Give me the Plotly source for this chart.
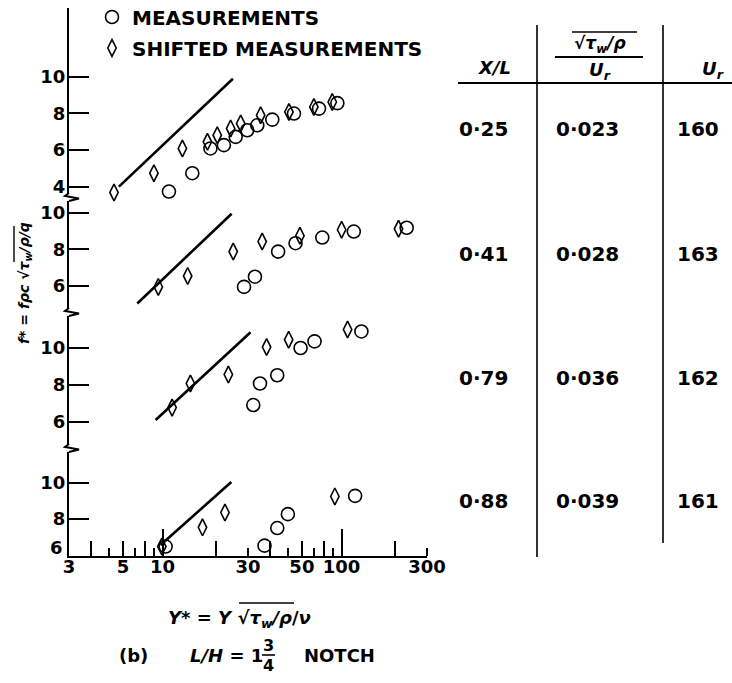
import math
import plotly.graph_objects as go

# ---------------- data ----------------
# Panel X/L = 0.25
p1_line_x = [5.7, 24.7]
p1_line_y = [4.0, 9.88]
p1_circ_x = [10.85, 14.65, 18.5, 22.0, 25.6, 29.7, 33.8, 41.0, 54.2, 74.8, 94.7]
p1_circ_y = [3.73, 4.73, 6.08, 6.26, 6.71, 7.07, 7.34, 7.65, 7.98, 8.25, 8.55]
p1_dia_x = [5.35, 8.94, 12.9, 17.8, 20.2, 24.0, 27.3, 35.3, 50.8, 70.0, 88.7]
p1_dia_y = [3.68, 4.73, 6.08, 6.44, 6.80, 7.17, 7.44, 7.89, 8.07, 8.34, 8.61]

# Panel X/L = 0.41
p2_line_x = [7.22, 24.3]
p2_line_y = [5.03, 9.96]
p2_circ_x = [28.5, 32.8, 44.2, 55.3, 78.0, 117, 231]
p2_circ_y = [5.94, 6.50, 7.88, 8.34, 8.65, 8.98, 9.19]
p2_dia_x = [9.46, 13.8, 24.8, 36.0, 58.5, 100, 208]
p2_dia_y = [5.94, 6.54, 7.88, 8.43, 8.75, 9.08, 9.13]

# Panel X/L = 0.79
p3_line_x = [9.14, 31.0]
p3_line_y = [6.09, 10.86]
p3_circ_x = [32.1, 35.0, 43.7, 59.0, 70.6, 129]
p3_circ_y = [6.90, 8.07, 8.52, 10.0, 10.36, 10.90]
p3_dia_x = [11.3, 14.3, 23.3, 38.1, 50.6, 108]
p3_dia_y = [6.76, 8.07, 8.56, 10.05, 10.45, 11.01]

# Panel X/L = 0.88
p4_line_x = [9.74, 24.2]
p4_line_y = [6.58, 10.03]
p4_circ_x = [10.4, 37.1, 43.7, 50.1, 119]
p4_circ_y = [6.5, 6.55, 7.51, 8.27, 9.27]
p4_dia_x = [9.9, 16.7, 22.3, 91.7]
p4_dia_y = [6.5, 7.55, 8.36, 9.24]

# table
xl_vals = [0.25, 0.41, 0.79, 0.88]
ratio_vals = [0.023, 0.028, 0.036, 0.039]
ur_vals = [160, 163, 162, 161]

# x-axis tick labels (as drawn) and tick marks
x_label_pos = [3, 6, 10, 30, 60, 100, 300]
x_label_txt = ["3", "5", "10", "30", "50", "100", "300"]
x_ticks_long = [10, 100]
x_ticks_mid = [4, 6, 8, 20, 40, 60, 80, 200]
x_ticks_short = [5, 7, 9, 30, 50, 70, 90, 300]

# ---------------- layout geometry ----------------
W_FIG, H_FIG = 732, 683
L, R, T, B = 69, 427, 8, 556
PW, PH = R - L, B - T
FONT = "DejaVu Sans"


def fx(px):
    return (px - L) / PW


def fy(py):
    return (B - py) / PH


def font(size=18, weight="bold"):
    return dict(family=FONT, size=size, color="black", weight=weight)


fig = go.Figure()

panels = [
    ("y4", "x", p1_line_x, p1_line_y, p1_circ_x, p1_circ_y, p1_dia_x, p1_dia_y, True),
    ("y3", "x", p2_line_x, p2_line_y, p2_circ_x, p2_circ_y, p2_dia_x, p2_dia_y, False),
    ("y2", "x", p3_line_x, p3_line_y, p3_circ_x, p3_circ_y, p3_dia_x, p3_dia_y, False),
    ("y", "x2", p4_line_x, p4_line_y, p4_circ_x, p4_circ_y, p4_dia_x, p4_dia_y, False),
]

for ax, xax, lx, ly, cx, cy, dx, dy, leg in panels:
    fig.add_trace(go.Scatter(x=lx, y=ly, mode="lines", yaxis=ax, xaxis=xax,
                             line=dict(color="black", width=2.6), showlegend=False,
                             hoverinfo="skip"))
    fig.add_trace(go.Scatter(x=cx, y=cy, mode="markers", yaxis=ax, xaxis="x",
                             name="MEASUREMENTS", legend="legend", showlegend=leg,
                             cliponaxis=False,
                             marker=dict(symbol="circle-open", size=13, color="black",
                                         line=dict(width=1.6, color="black"))))
    fig.add_trace(go.Scatter(x=dx, y=dy, mode="markers", yaxis=ax, xaxis="x",
                             name="SHIFTED MEASUREMENTS", legend="legend2", showlegend=leg,
                             cliponaxis=False,
                             marker=dict(symbol="diamond-tall-open", size=12, color="black",
                                         line=dict(width=1.6, color="black"))))

cal = {
    "yaxis4": dict(p10=76.5, ppu=18.35, bot=193, top=T, ticks=[4, 6, 8, 10]),
    "yaxis3": dict(p10=213, ppu=18.2, bot=308, top=201, ticks=[6, 8, 10]),
    "yaxis2": dict(p10=348, ppu=18.4, bot=444, top=316, ticks=[6, 8, 10]),
    "yaxis": dict(p10=482.5, ppu=18.3, bot=B, top=452, ticks=[8, 10]),
}
for name, c in cal.items():
    rng = [10 - (c["bot"] - c["p10"]) / c["ppu"], 10 + (c["p10"] - c["top"]) / c["ppu"]]
    fig.layout[name] = dict(
        domain=[fy(c["bot"]), fy(c["top"])], range=rng, anchor="x", automargin=False,
        tickmode="array", tickvals=c["ticks"], ticktext=[str(t) for t in c["ticks"]],
        ticks="inside", ticklen=20, tickwidth=2, tickcolor="black",
        showline=True, linewidth=2, linecolor="black",
        showgrid=False, zeroline=False, tickfont=font(18), ticklabelstandoff=-2,
    )

xr = [math.log10(2.999), math.log10(300.02)]
fig.update_layout(
    xaxis=dict(type="log", range=xr, anchor="y", showline=True, linewidth=2,
               linecolor="black", showgrid=False, zeroline=False, automargin=False,
               tickmode="array", tickvals=x_label_pos, ticktext=x_label_txt,
               ticks="", tickfont=font(18), ticklabelstandoff=-7,
               minor=dict(tickmode="array", tickvals=x_ticks_short, ticks="inside",
                          ticklen=8, tickwidth=1.6, tickcolor="black", showgrid=False)),
    xaxis2=dict(type="log", range=xr, overlaying="x", anchor="y", showline=False,
                showgrid=False, zeroline=False, showticklabels=False, automargin=False,
                tickmode="array", tickvals=x_ticks_long, ticks="inside", ticklen=27,
                tickwidth=1.6, tickcolor="black",
                minor=dict(tickmode="array", tickvals=x_ticks_mid, ticks="inside",
                           ticklen=15, tickwidth=1.6, tickcolor="black", showgrid=False)),
)

fig.update_layout(
    width=W_FIG, height=H_FIG,
    margin=dict(l=L, r=W_FIG - R, t=T, b=H_FIG - B, autoexpand=False),
    paper_bgcolor="white", plot_bgcolor="white",
    legend=dict(x=fx(92), y=fy(17), xanchor="left", yanchor="middle", font=font(20),
                bgcolor="rgba(0,0,0,0)", borderwidth=0),
    legend2=dict(x=fx(92), y=fy(48), xanchor="left", yanchor="middle", font=font(20),
                 bgcolor="rgba(0,0,0,0)", borderwidth=0),
)

shapes = []
annotations = []


def hline(x0, x1, y, w=2):
    shapes.append(dict(type="line", xref="paper", yref="paper", x0=fx(x0), x1=fx(x1),
                       y0=fy(y), y1=fy(y), line=dict(color="black", width=w)))


def vline(x, y0, y1, w=1.6):
    shapes.append(dict(type="line", xref="paper", yref="paper", x0=fx(x), x1=fx(x),
                       y0=fy(y0), y1=fy(y1), line=dict(color="black", width=w)))


def text(x, y, s, size=18, xanchor="center", weight="bold", angle=0):
    annotations.append(dict(xref="paper", yref="paper", x=fx(x), y=fy(y), text=s,
                            showarrow=False, xanchor=xanchor, yanchor="middle",
                            font=font(size, weight), textangle=angle))


# axis breaks (zig-zags) between panels
for top_end, bot_start in [(193, 201), (308, 316), (444, 452)]:
    yc = (top_end + bot_start) / 2
    pts = [(L, top_end), (L - 4, yc - 1), (L + 10, yc + 1.5), (L, bot_start)]
    path = "M " + " L ".join(f"{fx(a):.5f},{fy(b):.5f}" for a, b in pts)
    shapes.append(dict(type="path", xref="paper", yref="paper", path=path,
                       line=dict(color="black", width=2)))

# lowest label of the bottom panel, drawn just above the x axis as in the original
text(56, 547, "6", size=18)

# y axis title (rotated) with radical overline
text(25, 283, "<i>f</i>* = <i>fρc</i> √<i>τ<sub>w</sub>/ρ/q</i>", size=14, angle=-90)
vline(14, 226, 262, w=1.4)

# x axis title
text(239, 619, "<i>Y</i>* = <i>Y</i> √<i>τ<sub>w</sub>/ρ</i>/<i>ν</i>", size=18)
hline(239, 294, 603, w=1.6)

# caption
text(117, 655, "(b)", size=18, xanchor="left")
text(188, 655, "<i>L/H</i> = 1", size=18, xanchor="left")
text(268, 645, "3", size=16)
text(268, 665, "4", size=16)
hline(262, 275, 655, w=1.6)
text(302, 655, "NOTCH", size=18, xanchor="left")

# table
vline(537, 25, 557)
vline(663, 25, 543)
hline(458, 732, 83)
text(495, 68, "<i>X/L</i>", size=18)
text(600, 44, "√<i>τ<sub>w</sub>/ρ</i>", size=17)
hline(572, 637, 32, w=1.6)
hline(555, 643, 57, w=2)
text(600, 71, "<i>U<sub>r</sub></i>", size=18)
text(713, 70, "<i>U<sub>r</sub></i>", size=18)

row_y = [129, 254, 378, 501]
for yy, a, b, c in zip(row_y, xl_vals, ratio_vals, ur_vals):
    text(483, yy, f"{a:.2f}".replace(".", "·"), size=20)
    text(587, yy, f"{b:.3f}".replace(".", "·"), size=20)
    text(698, yy, str(c), size=20)

fig.update_layout(shapes=shapes, annotations=annotations)
fig.write_html("out.html")
